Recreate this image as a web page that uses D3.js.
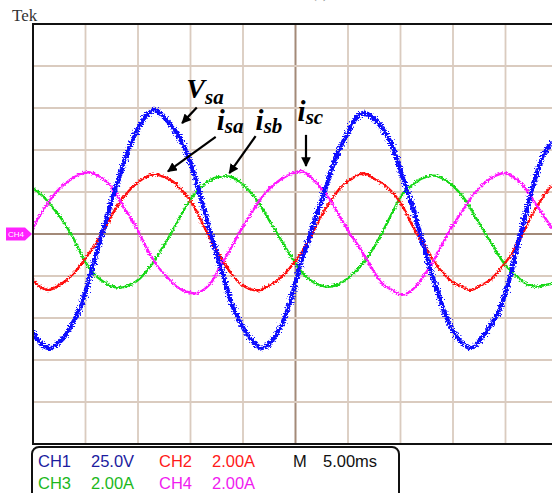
<!DOCTYPE html>
<html>
<head>
<meta charset="utf-8">
<script src="https://cdn.jsdelivr.net/npm/d3@7"></script>
<style>
  body { margin: 0; background: #fff; }
  svg { display: block; }
</style>
</head>
<body>
<svg id="scope" width="552" height="493"></svg>
<script>
// scope capture: time in ms, CH1 in V, CH2..CH4 in A
var ch1 = [[0.0,-58.2],[0.67,-64.9],[1.62,-67.9],[2.57,-64.1],[3.52,-56.0],[4.48,-44.0],[5.11,-32.1],[5.74,-18.5],
  [6.38,-4.6],[7.02,9.5],[7.65,23.2],[8.29,35.1],[8.92,47.0],[9.55,57.1],[10.19,64.9],[10.83,70.8],[11.62,73.8],
  [12.41,69.8],[13.36,63.1],[14.31,53.0],[15.27,37.1],[15.90,23.2],[16.86,1.4],[17.17,-4.6],[17.81,-18.5],[18.45,-32.1],
  [19.08,-44.0],[20.03,-56.0],[20.98,-64.1],[21.78,-67.9],[22.57,-64.9],[23.52,-56.0],[24.31,-44.0],[24.95,-30.4],
  [25.43,-18.5],[26.07,-6.5],[26.70,5.4],[27.33,17.3],[27.97,29.2],[28.60,41.1],[29.24,51.2],[29.88,58.9],[30.50,66.8],
  [31.46,72.0],[32.41,69.0],[33.24,63.1],[34.19,53.0],[34.83,41.1],[35.46,29.2],[36.10,17.3],[36.73,3.6],[37.36,-10.5],
  [38.00,-24.4],[38.64,-36.3],[39.27,-48.2],[40.07,-58.2],[40.86,-64.9],[41.65,-67.9],[42.45,-64.1],[43.40,-56.0],
  [44.35,-46.2],[45.30,-28.4],[45.93,-12.5],[46.57,3.6],[47.21,19.2],[47.84,33.3],[48.48,45.2],[49.43,54.9]]
var ch2 = [[0.0,-2.19],[0.67,-2.51],[1.46,-2.67],[2.26,-2.51],[3.21,-2.19],[4.16,-1.71],[5.11,-1.08],[6.07,-0.37],
  [7.02,0.43],[7.97,1.30],[8.92,1.94],[9.88,2.41],[10.83,2.73],[11.62,2.84],[12.41,2.73],[13.36,2.49],[14.31,2.01],
  [15.27,1.38],[15.90,0.75],[16.86,-0.20],[17.81,-1.08],[18.76,-1.80],[19.71,-2.35],[20.67,-2.62],[21.62,-2.67],
  [22.57,-2.43],[23.52,-2.11],[24.48,-1.60],[25.43,-1.00],[26.38,-0.20],[27.33,0.75],[28.29,1.54],[29.24,2.18],
  [30.19,2.57],[31.46,2.89],[32.41,2.65],[33.24,2.41],[34.19,2.01],[35.14,1.38],[36.10,0.43],[37.05,-0.37],
  [38.00,-1.16],[38.95,-1.80],[39.90,-2.27],[40.86,-2.51],[41.65,-2.67],[42.76,-2.43],[43.71,-2.11],[44.67,-1.56],
  [45.62,-0.92],[46.57,-0.05],[47.52,0.90],[48.48,1.70],[49.43,2.33]]
var ch3 = [[0.0,2.18],[0.98,1.78],[1.93,1.22],[2.89,0.59],[3.84,-0.20],[4.79,-1.16],[5.74,-1.87],[6.70,-2.27],
  [7.65,-2.51],[8.29,-2.56],[9.24,-2.43],[10.19,-2.11],[11.14,-1.56],[12.10,-0.84],[13.05,-0.05],[14.00,0.82],
  [14.95,1.62],[15.90,2.18],[16.86,2.57],[17.81,2.73],[18.76,2.73],[19.71,2.49],[20.67,2.01],[21.62,1.38],[22.57,0.59],
  [23.52,-0.20],[24.48,-1.00],[25.43,-1.71],[26.38,-2.19],[27.33,-2.43],[28.12,-2.51],[29.24,-2.35],[30.19,-2.03],
  [31.14,-1.56],[32.10,-0.92],[33.05,-0.13],[34.19,0.99],[35.14,1.86],[36.10,2.33],[37.05,2.65],[38.16,2.78],
  [39.27,2.57],[40.22,2.18],[41.17,1.62],[42.12,0.82],[43.08,0.03],[44.03,-0.76],[44.98,-1.48],[45.93,-1.95],
  [46.89,-2.35],[47.84,-2.51],[48.79,-2.43],[49.43,-2.35]]
var ch4 = [[0.0,0.27],[0.67,0.90],[1.62,1.62],[2.57,2.18],[3.52,2.57],[4.48,2.84],[5.27,2.94],[6.07,2.81],[7.02,2.49],
  [7.97,1.86],[8.92,1.06],[9.88,0.27],[10.83,-0.68],[11.78,-1.48],[12.73,-2.03],[13.69,-2.51],[14.64,-2.75],
  [15.59,-2.82],[16.86,-2.38],[17.81,-1.56],[18.76,-0.76],[19.71,0.11],[20.67,0.90],[21.62,1.62],[22.57,2.18],
  [23.52,2.57],[24.48,2.84],[25.59,3.00],[26.38,2.73],[27.33,2.25],[28.29,1.62],[29.24,0.82],[30.19,0.03],
  [31.14,-0.68],[32.10,-1.48],[33.24,-2.35],[34.19,-2.67],[35.14,-2.90],[36.10,-2.67],[37.05,-2.11],[38.00,-1.40],
  [38.95,-0.52],[39.90,0.35],[40.86,1.06],[41.81,1.78],[42.76,2.33],[43.71,2.68],[44.83,2.89],[45.93,2.65],
  [46.89,2.18],[47.84,1.46],[48.79,0.75],[49.43,0.27]]

var chNames = ["CH1", "CH2", "CH3", "CH4"]
var chScales = ["25.0V", "2.00A", "2.00A", "2.00A"]
var perDiv = [25, 2, 2, 2]
var timeBase = "5.00ms"
var msPerDiv = 5

// annotations: label, sub, label pos [ms, div], arrow from/to [ms, div]
var notes = [
  {main: "V", sub: "sa", at: [14.6, 3.25], from: [15.6, 3.01], to: [14.2, 2.64]},
  {main: "i", sub: "sa", at: [17.5, 2.48], from: [17.4, 2.31], to: [12.85, 1.49]},
  {main: "i", sub: "sb", at: [21.2, 2.48], from: [21.2, 2.33], to: [18.7, 1.45]},
  {main: "i", sub: "sc", at: [25.2, 2.7], from: [26.0, 2.36], to: [26.0, 1.62]}
]

var colors = ["#0a0aff", "#ff1010", "#18d818", "#ff14ff"]
var textColors = ["#1c1ca0", "#ff1a1a", "#1cb81c", "#f01cf0"]

var plotLeft = 33, plotTop = 24, divW = 52.5, divH = 42
var svg = d3.select("#scope")

var x = d3.scaleLinear().domain([0, 10 * msPerDiv]).range([plotLeft, plotLeft + 10 * divW])
var yDiv = d3.scaleLinear().domain([-5, 5]).range([plotTop + 10 * divH, plotTop])

var defs = svg.append("defs")
defs.append("clipPath").attr("id", "plotClip")
  .append("rect").attr("x", plotLeft).attr("y", plotTop).attr("width", 10 * divW).attr("height", 10 * divH)

// scope noise look, only a rendering filter
function noiseFilter(id, seed, scale) {
  var f = defs.append("filter").attr("id", id).attr("filterUnits", "userSpaceOnUse")
    .attr("x", 0).attr("y", 0).attr("width", 600).attr("height", 493)
  f.append("feTurbulence").attr("type", "fractalNoise").attr("baseFrequency", "0.5 0.9")
    .attr("numOctaves", 2).attr("seed", seed).attr("result", "n")
  f.append("feDisplacementMap").attr("in", "SourceGraphic").attr("in2", "n")
    .attr("scale", scale).attr("xChannelSelector", "R").attr("yChannelSelector", "G")
}
noiseFilter("noiseV", 3, 8)
noiseFilter("noiseI", 7, 4.5)

// top texts
svg.append("text").attr("x", 12).attr("y", 21).text("Tek")
  .style("font-family", "'Liberation Serif', serif").style("font-size", "17px").style("fill", "#333")
svg.append("text").attr("x", 312).attr("y", -2).text("(a)")
  .style("font-family", "'Liberation Serif', serif").style("font-size", "14px").style("fill", "#888")

// grid
var grid = svg.append("g")
d3.range(1, 10).forEach(function (i) {
  var gx = x(i * msPerDiv)
  grid.append("line").attr("x1", gx).attr("x2", gx).attr("y1", plotTop).attr("y2", plotTop + 10 * divH)
    .style("stroke", i == 5 ? "#a38a78" : "#dacbbf").style("stroke-width", i == 5 ? 2 : 1.8)
})
d3.range(-4, 5).forEach(function (i) {
  var gy = yDiv(i)
  grid.append("line").attr("x1", plotLeft).attr("x2", plotLeft + 10 * divW).attr("y1", gy).attr("y2", gy)
    .style("stroke", i == 0 ? "#a38a78" : "#dacbbf").style("stroke-width", i == 0 ? 2 : 1.8)
})

// traces
var line = function (k) {
  return d3.line()
    .x(function (d) { return x(d[0]) })
    .y(function (d) { return yDiv(d[1] / perDiv[k]) })
    .curve(d3.curveCatmullRom)
}
var traces = svg.append("g").attr("clip-path", "url(#plotClip)")
var order = [2, 1, 3, 0]
var series = [ch1, ch2, ch3, ch4]
order.forEach(function (k) {
  traces.append("g").attr("filter", k == 0 ? "url(#noiseV)" : "url(#noiseI)")
    .append("path").datum(series[k])
    .attr("d", line(k))
    .style("fill", "none")
    .style("stroke", colors[k])
    .style("stroke-width", k == 0 ? 4.4 : 2.4)
    .style("stroke-linejoin", "round")
})

// frame (right side runs out of the window)
svg.append("rect").attr("x", plotLeft).attr("y", plotTop).attr("width", 10 * divW).attr("height", 10 * divH)
  .style("fill", "none").style("stroke", "#111").style("stroke-width", 2)

// CH4 ground marker
var my = yDiv(0)
svg.append("path")
  .attr("d", "M6," + (my - 6.5) + "H25L32," + my + "L25," + (my + 6.5) + "H6Z")
  .style("fill", "#ff22ff")
svg.append("text").attr("x", 8).attr("y", my + 3).text("CH4")
  .style("font-family", "'Liberation Sans', Arial, sans-serif").style("font-size", "8px")
  .style("fill", "#fff")

// annotations
defs.append("marker").attr("id", "head").attr("viewBox", "0 0 10 10")
  .attr("refX", 9).attr("refY", 5).attr("markerWidth", 4.4).attr("markerHeight", 4.4)
  .attr("orient", "auto").attr("markerUnits", "strokeWidth")
  .append("path").attr("d", "M0,0L10,5L0,10Z").style("fill", "#000")
var ann = svg.append("g")
notes.forEach(function (n) {
  ann.append("line")
    .attr("x1", x(n.from[0])).attr("y1", yDiv(n.from[1]))
    .attr("x2", x(n.to[0])).attr("y2", yDiv(n.to[1]))
    .style("stroke", "#000").style("stroke-width", 2.2).attr("marker-end", "url(#head)")
  var t = ann.append("text").attr("x", x(n.at[0])).attr("y", yDiv(n.at[1]))
    .style("font-family", "'Liberation Serif', 'Times New Roman', serif")
    .style("font-style", "italic").style("font-weight", "bold").style("fill", "#000")
  t.append("tspan").text(n.main).style("font-size", n.main == "V" ? "28px" : "29px")
  t.append("tspan").text(n.sub).attr("dy", n.main == "V" ? 6 : 3).style("font-size", "21px")
})

// readout box
var box = svg.append("g")
box.append("rect").attr("x", 32).attr("y", 447).attr("width", 367).attr("height", 60).attr("rx", 7)
  .style("fill", "#fff").style("stroke", "#111").style("stroke-width", 2)
var colX = [38, 159]
var valX = [91, 212]
var rowY = [466.5, 488.5]
chNames.forEach(function (name, k) {
  var r = Math.floor(k / 2), c = k % 2
  box.append("text").attr("x", colX[c]).attr("y", rowY[r]).text(name)
    .style("fill", textColors[k])
  box.append("text").attr("x", valX[c]).attr("y", rowY[r]).text(chScales[k])
    .style("fill", textColors[k])
})
box.append("text").attr("x", 293).attr("y", rowY[0]).text("M").style("fill", "#111")
box.append("text").attr("x", 323).attr("y", rowY[0]).text(timeBase).style("fill", "#111")
box.selectAll("text")
  .style("font-family", "'Liberation Sans', Arial, sans-serif").style("font-size", "16.5px")
</script>
</body>
</html>
